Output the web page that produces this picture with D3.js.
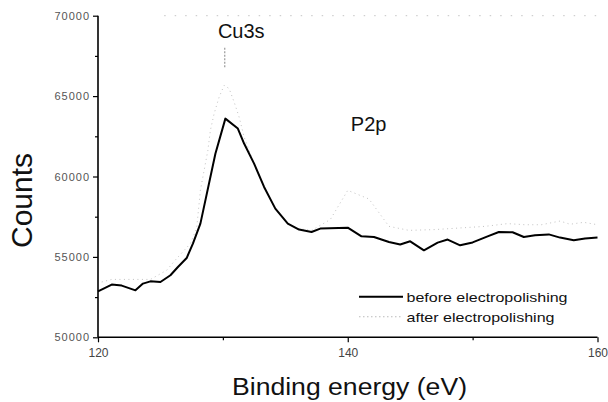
<!DOCTYPE html>
<html><head><meta charset="utf-8">
<script src="https://cdn.jsdelivr.net/npm/d3@7/dist/d3.min.js"></script>
<style>body{margin:0;background:#fff}svg{display:block;font-family:"Liberation Sans",Arial,sans-serif}</style>
</head><body><svg id="c" width="608" height="402"></svg>
<script>
// Binding energy (eV) and counts, "before electropolishing"
const beforeX = [120, 121.1, 121.9, 123.0, 123.6, 124.2, 125.0, 125.8, 126.4, 127.1, 127.6, 128.2, 129.4, 130.2, 131.2, 131.7, 132.5, 133.3, 134.2, 135.2, 136.1, 137.1, 137.8, 140.0, 141.1, 142.1, 143.3, 144.2, 145.0, 146.1, 147.2, 148.0, 149.0, 150.0, 151.2, 152.1, 153.2, 154.1, 155.0, 156.1, 157.0, 158.1, 159.0, 160.0];
const beforeY = [52860, 53280, 53215, 52920, 53340, 53480, 53440, 53860, 54370, 54930, 55830, 57070, 61420, 63600, 62980, 62050, 60800, 59350, 58000, 57070, 56700, 56550, 56760, 56820, 56280, 56240, 55930, 55770, 55970, 55410, 55890, 56080, 55720, 55900, 56280, 56550, 56530, 56240, 56340, 56400, 56200, 56030, 56140, 56200];
// "after electropolishing"
const afterX = [120.3, 121.1, 122.4, 124.2, 125.5, 126.3, 127.4, 127.9, 128.2, 128.5, 128.8, 129.0, 129.3, 129.7, 130.1, 130.5, 130.9, 131.3, 131.7, 132.0, 132.5, 133.3, 134.2, 135.2, 136.1, 137.1, 138.6, 140.0, 141.7, 143.3, 144.9, 147.0, 149.0, 151.0, 152.8, 154.2, 155.5, 157.0, 157.8, 158.9, 160.0];
const afterY = [53440, 53600, 53600, 53600, 54170, 54900, 55830, 56780, 59140, 60390, 61630, 62870, 63910, 64940, 65670, 65470, 64630, 63700, 62460, 61830, 60800, 59350, 58000, 57070, 56750, 56650, 57320, 59140, 58600, 56900, 56650, 56700, 56800, 56900, 57070, 57000, 57000, 57230, 57030, 57150, 57000];
const xTicks = [120, 140, 160];
const xMinor = [130, 150];
const yTicks = [50000, 55000, 60000, 65000, 70000];
const yMinor = [52500, 57500, 62500, 67500];
const seriesNames = ["before electropolishing", "after electropolishing"];
const peakLabels = [{t: "Cu3s", x: 129.6, y: 68600}, {t: "P2p", x: 140.25, y: 62830}];

const svg = d3.select("#c");
const x = d3.scaleLinear().domain([120, 160]).range([98, 597.5]);
const y = d3.scaleLinear().domain([50000, 70000]).range([337.3, 15.7]);

// faint top frame
svg.append("line").attr("x1", x(125.3)).attr("x2", x(160)).attr("y1", y(70000)).attr("y2", y(70000))
  .attr("stroke", "#c4c4c4").attr("stroke-width", 1).attr("stroke-dasharray", "1.5,9");

const line = d3.line().x(d => x(d[0])).y(d => y(d[1]));
const after = afterX.map((v, i) => [v, afterY[i]]);
const before = beforeX.map((v, i) => [v, beforeY[i]]);

svg.append("path").attr("d", line(after)).attr("fill", "none").attr("stroke", "#c2c2c2")
  .attr("stroke-width", 1).attr("stroke-dasharray", "1,3.5");
svg.append("path").attr("d", line(before)).attr("fill", "none").attr("stroke", "#000")
  .attr("stroke-width", 2).attr("stroke-linejoin", "round");

// axes
const yAxis = svg.append("g").attr("transform", `translate(${x(120)},0)`)
  .call(d3.axisLeft(y).tickValues(yTicks).tickFormat(d3.format("d")).tickSize(5).tickPadding(3));
svg.append("g").attr("transform", `translate(${x(120)},0)`)
  .call(d3.axisLeft(y).tickValues(yMinor).tickFormat("").tickSize(3))
  .call(g => g.select(".domain").remove());
const xAxis = svg.append("g").attr("transform", `translate(0,${y(50000)})`)
  .call(d3.axisBottom(x).tickValues(xTicks).tickFormat(d3.format("d")).tickSize(5).tickPadding(6));
svg.append("g").attr("transform", `translate(0,${y(50000)})`)
  .call(d3.axisBottom(x).tickValues(xMinor).tickFormat("").tickSize(3))
  .call(g => g.select(".domain").remove());
svg.selectAll(".domain").attr("stroke-width", 1.6);
yAxis.select(".domain").attr("d", `M0,${y(70000)}V${y(50000)}`);
xAxis.select(".domain").attr("d", `M${x(120)},0H${x(160)}`);
svg.selectAll(".tick line").attr("stroke-width", 1.2);
yAxis.selectAll("text").attr("font-size", 11).attr("letter-spacing", 1).attr("fill", "#555")
  .attr("font-family", "Liberation Sans, Arial, sans-serif");
xAxis.selectAll("text").attr("font-size", 12).attr("fill", "#444").attr("font-family", "Liberation Sans, Arial, sans-serif");

// axis titles
svg.append("text").attr("transform", `translate(32,${(153 + 248) / 2}) rotate(-90)`)
  .attr("text-anchor", "middle").attr("font-size", 30).attr("fill", "#111").text("Counts");
svg.append("text").attr("x", 349.5).attr("y", 395).attr("text-anchor", "middle")
  .attr("font-size", 23).attr("fill", "#111").attr("textLength", 235).attr("lengthAdjust", "spacingAndGlyphs")
  .text("Binding energy (eV)");

// peak labels
svg.selectAll(".pk").data(peakLabels).join("text").attr("class", "pk")
  .attr("x", d => x(d.x)).attr("y", d => y(d.y)).attr("text-anchor", "start")
  .attr("font-size", 20).attr("fill", "#111").text(d => d.t);
svg.append("line").attr("x1", x(130.15)).attr("x2", x(130.15)).attr("y1", y(68000)).attr("y2", y(66800))
  .attr("stroke", "#999").attr("stroke-width", 1.2).attr("stroke-dasharray", "2,1.5");

// legend
const lg = svg.append("g");
const lgY = [296.7, 316.7];
seriesNames.forEach((n, i) => {
  lg.append("line").attr("x1", 359).attr("x2", 403).attr("y1", lgY[i]).attr("y2", lgY[i])
    .attr("stroke", i === 0 ? "#000" : "#bbb").attr("stroke-width", i === 0 ? 2 : 1.1)
    .attr("stroke-dasharray", i === 0 ? null : "1.5,2.5");
  lg.append("text").attr("x", 406.5).attr("y", lgY[i] + 4.8).attr("font-size", 13).attr("fill", "#111")
    .attr("textLength", i === 0 ? 161 : 148).attr("lengthAdjust", "spacingAndGlyphs").text(n);
});
</script></body></html>
